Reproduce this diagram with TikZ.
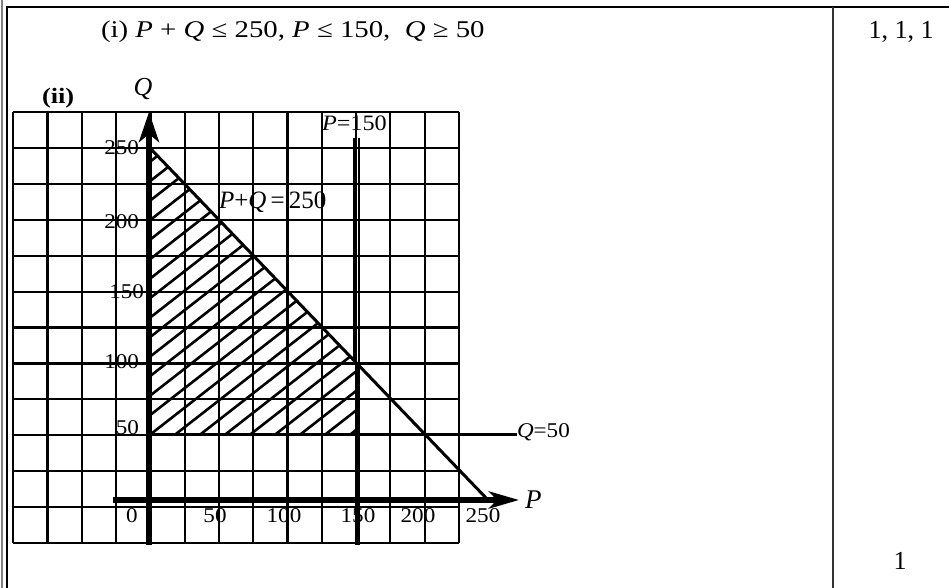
\documentclass[tikz,border=0pt]{standalone}
\usepackage{fontspec}
\usepackage{graphicx}
\setmainfont{Liberation Serif}
\usetikzlibrary{arrows.meta}
\newcommand{\hs}[2]{\scalebox{#1}[1]{#2}}
\newcommand{\fs}[1]{\fontsize{#1}{#1}\selectfont}
\begin{document}
\begin{tikzpicture}[x=1pt,y=-1pt,
  gridline/.style={line width=2.2pt},
  hatchline/.style={line width=2.6pt},
  axisline/.style={line width=6pt},
  framelinestyle/.style={line width=2pt},
  txt/.style={inner sep=0pt, outer sep=0pt},
  ticklbl/.style={txt},
]
\useasboundingbox (0,0) rectangle (949,588);
% frame
\draw[gray, line width=1.2pt] (2,0) -- (2,588);
\draw[framelinestyle] (7,588) -- (7,7) -- (949,7);
\draw[framelinestyle, black!80] (833,7) -- (833,588);
% grid
\foreach \i in {0,...,13} \draw[gridline] ({13.3+\i*34.28},112) -- ({13.3+\i*34.28},543);
\foreach \j in {0,...,12} \draw[gridline] (13.3,{112+\j*35.92}) -- (459,{112+\j*35.92});
% hatching
\begin{scope}
  \clip (150,148) -- (357,363.6) -- (357,434) -- (150,434) -- cycle;
  \foreach \k in {0,...,26} \draw[hatchline] (140,{150+\k*19.5}) -- (370,{150+\k*19.5-230*0.78});
\end{scope}
% constraint lines
\coordinate (q50a) at (147,434);
\coordinate (q50b) at (517,434);
\draw[line width=3pt] (q50a) -- (q50b);
\coordinate (hypA) at (150,148);
\coordinate (hypB) at (488,500);
\draw[line width=3pt] (hypA) -- (hypB);
\draw[line width=2pt] (353.5,138) -- (353.5,362);
\draw[line width=2pt] (359,138) -- (359,362);
\draw[line width=5pt] (357,362) -- (357,545);
% axes
\coordinate (qbot) at (149,545);
\coordinate (qtop) at (149,112);
\coordinate (pleft) at (113,500);
\coordinate (pright) at (519,500);
\draw[axisline, -{Stealth[length=30pt,width=20pt,inset=8pt]}] (qbot) -- (qtop);
\draw[axisline, -{Stealth[length=30pt,width=17pt,inset=8pt]}] (pleft) -- (pright);
% texts
\node[txt, anchor=base west] (title) at (101,38) {\hs{1.2}{\fs{24}(i) \textit{P} + \textit{Q} ≤ 250, \textit{P} ≤ 150,\ \ \textit{Q} ≥ 50}};
\node[txt, anchor=base west] (ii) at (42,104) {\hs{1.2}{\fs{22}\bfseries (ii)}};
\node[txt, anchor=base] (Qlbl) at (143,96) {\fs{26}\textit{Q}};
\node[txt, anchor=base west] (Plbl) at (525,508) {\fs{27}\textit{P}};
\node[txt, anchor=base west] (p150) at (322,131) {\hs{1.1}{\fs{22}\textit{P}=150}};
\node[txt, anchor=base west] (pq250) at (219,208) {\fs{25}\textit{P}+\textit{Q}\,=\,250};
\node[txt, anchor=base west] (q50) at (517,437) {\hs{1.1}{\fs{21}\textit{Q}=50}};
% left tick labels
\node[ticklbl, anchor=base east] (l250) at (139,154) {\hs{1.1}{\fs{21}250}};
\node[ticklbl, anchor=base east] (l200) at (139,228) {\hs{1.1}{\fs{21}200}};
\node[ticklbl, anchor=base east] (l150) at (144,298) {\hs{1.1}{\fs{21}150}};
\node[ticklbl, anchor=base east] (l100) at (139,368) {\hs{1.1}{\fs{21}100}};
\node[ticklbl, anchor=base east] (l50) at (139,434) {\hs{1.1}{\fs{21}50}};
% bottom tick labels
\node[ticklbl, anchor=base] (b0) at (132,522) {\hs{1.1}{\fs{21}0}};
\node[ticklbl, anchor=base] (b50) at (215,522) {\hs{1.1}{\fs{21}50}};
\node[ticklbl, anchor=base] (b100) at (284,522) {\hs{1.1}{\fs{21}100}};
\node[ticklbl, anchor=base] (b150) at (358,522) {\hs{1.1}{\fs{21}150}};
\node[ticklbl, anchor=base] (b200) at (418,522) {\hs{1.1}{\fs{21}200}};
\node[ticklbl, anchor=base] (b250) at (483,522) {\hs{1.1}{\fs{21}250}};
% marks column
\node[txt, anchor=base] (m1) at (901,39) {\fs{26}1, 1, 1};
\node[txt, anchor=base] (m2) at (900,569) {\fs{26}1};
\end{tikzpicture}
\end{document}
